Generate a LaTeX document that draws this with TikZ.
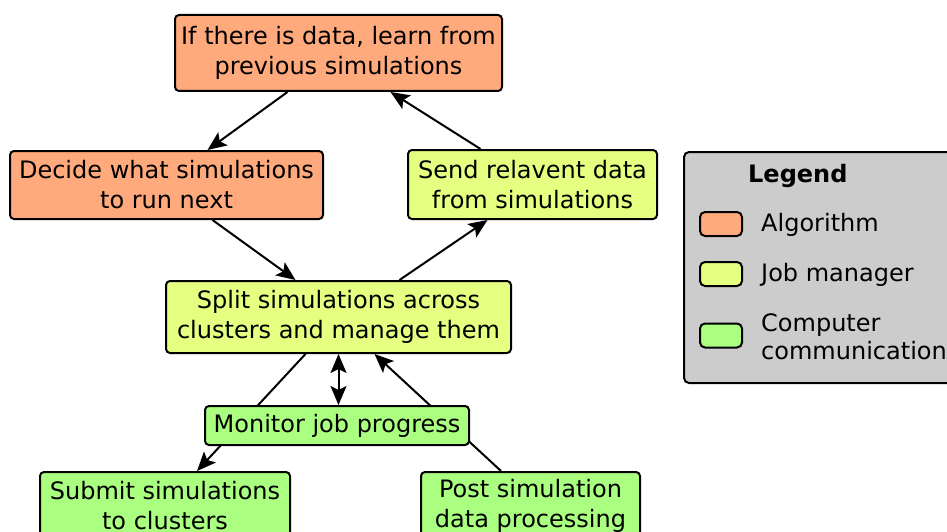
\documentclass[tikz,border=0pt]{standalone}
\usepackage{fontspec}
\setmainfont{DejaVu Sans}
\usetikzlibrary{arrows.meta,backgrounds}
\definecolor{algo}{RGB}{255,170,125}
\definecolor{jobm}{RGB}{229,255,128}
\definecolor{comm}{RGB}{170,255,128}
\definecolor{legbg}{RGB}{204,204,204}
\tikzset{
  box/.style={draw=black, line width=2pt, rounded corners=4pt, align=center,
    inner sep=0pt, font=\fontsize{24}{30}\selectfont},
  algobox/.style={box, fill=algo},
  jobbox/.style={box, fill=jobm},
  commbox/.style={box, fill=comm},
  swatch/.style={draw=black, line width=2pt, rounded corners=5pt,
    minimum width=42pt, minimum height=24pt, inner sep=0pt},
  legtext/.style={anchor=west, align=left, inner sep=0pt,
    font=\fontsize{24}{28}\selectfont},
  flow/.style={line width=2pt, -{Stealth[length=19pt,width=16pt,inset=4pt]}},
  flowboth/.style={line width=2pt, {Stealth[length=19pt,width=16pt,inset=4pt]}-{Stealth[length=19pt,width=16pt,inset=4pt]}}
}
\begin{document}
\begin{tikzpicture}[x=1pt,y=-1pt]
\useasboundingbox (0,0) rectangle (947,532);
\clip (0,0) rectangle (947,532);

% process boxes
\node[algobox, minimum width=327pt, minimum height=76pt] (learn) at (338.5,53)
  {If there is data, learn from\\previous simulations};
\node[algobox, minimum width=313pt, minimum height=68pt] (decide) at (166.5,185)
  {Decide what simulations\\to run next};
\node[jobbox, minimum width=249pt, minimum height=69pt] (send) at (532.5,184.5)
  {Send relavent data\\from simulations};
\node[jobbox, minimum width=345pt, minimum height=72pt] (split) at (338.5,317)
  {Split simulations across\\clusters and manage them};
\node[commbox, minimum width=264pt, minimum height=39pt] (monitor) at (337,425.5)
  {Monitor job progress};
\node[commbox, minimum width=250pt, minimum height=68pt] (submit) at (165,506)
  {Submit simulations\\to clusters};
\node[commbox, minimum width=219pt, minimum height=68pt] (post) at (530.5,506)
  {Post simulation\\data processing};

% connectors that pass behind the monitor box
\begin{scope}[on background layer]
\draw[flow] ([xshift=-33pt]split.south) -- ([xshift=32pt]submit.north);
\draw[flow] ([xshift=-29.5pt]post.north) -- ([xshift=36pt]split.south);
\end{scope}

% remaining connectors
\draw[flow] ([xshift=-51pt]learn.south) -- ([xshift=41pt]decide.north);
\draw[flow] ([xshift=-52pt]send.north) -- ([xshift=52pt]learn.south);
\draw[flow] ([xshift=46pt]decide.south) -- ([xshift=-43pt]split.north);
\draw[flow] ([xshift=61pt]split.north) -- ([xshift=-45pt]send.south);
\draw[flowboth] (split.south) -- (monitor.north -| split.south);

% legend
\node[draw=black, line width=2pt, rounded corners=5pt, fill=legbg,
  minimum width=286pt, minimum height=231pt, inner sep=0pt] (legend) at (827,267.5) {};
\node[anchor=west, inner sep=0pt, font=\fontsize{24}{28}\bfseries\selectfont] (legtitle) at (748,176) {Legend};
\node[swatch, fill=algo] (swalgo) at (721,224) {};
\node[swatch, fill=jobm] (swjob) at (721,274) {};
\node[swatch, fill=comm] (swcomm) at (721,335.5) {};
\node[legtext] (ltalgo) at (761,224.5) {Algorithm};
\node[legtext] (ltjob) at (761,274.5) {Job manager};
\node[legtext] (ltcomm) at (761,337) {Computer\\communication};
\end{tikzpicture}
\end{document}
